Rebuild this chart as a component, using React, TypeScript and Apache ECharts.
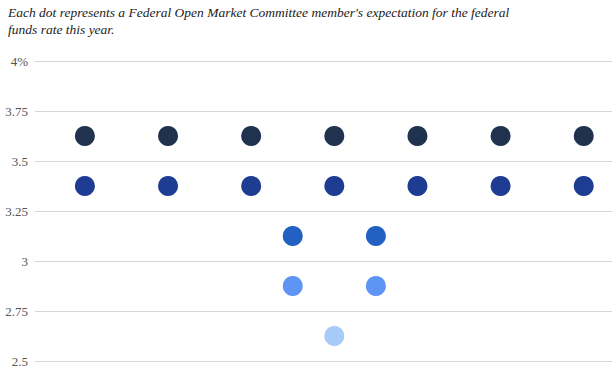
import React, { useEffect, useRef } from "react";
import * as echarts from "echarts";

const titleText =
  "Each dot represents a Federal Open Market Committee member's expectation for the federal\nfunds rate this year.";
const yTicks = [2.5, 2.75, 3, 3.25, 3.5, 3.75, 4];
// dot groups: rate value, horizontal slot positions, colour
const rowRates = [3.625, 3.375, 3.125, 2.875, 2.625];
const rowSlots = [
  [-3, -2, -1, 0, 1, 2, 3],
  [-3, -2, -1, 0, 1, 2, 3],
  [-0.5, 0.5],
  [-0.5, 0.5],
  [0],
];
const rowColors = ["#21324f", "#1f3c93", "#2261c2", "#5e95f5", "#a6cbf8"];

const SERIF = "serif";

export default function App() {
  const ref = useRef<HTMLDivElement>(null);
  useEffect(() => {
    const chart = echarts.init(ref.current!, undefined, { renderer: "svg" });
    chart.setOption({
      animation: false,
      textStyle: { fontFamily: SERIF },
      title: {
        text: titleText,
        left: 3,
        top: -1,
        textStyle: {
          fontFamily: SERIF,
          fontStyle: "italic",
          fontWeight: "normal",
          fontSize: 13.5,
          color: "#222",
          lineHeight: 17,
        },
      },
      grid: { left: 35, right: 0, top: 61, bottom: 17, containLabel: false },
      xAxis: {
        type: "value",
        min: -3.6,
        max: 3.34,
        show: false,
      },
      yAxis: {
        type: "value",
        min: yTicks[0],
        max: yTicks[yTicks.length - 1],
        interval: 0.25,
        axisLine: { show: false },
        axisTick: { show: false },
        splitLine: { lineStyle: { color: "#d6d6d6", width: 1 } },
        axisLabel: {
          margin: 7,
          fontFamily: SERIF,
          fontSize: 13,
          color: "#555",
          formatter: (v: number) => (v === 4 ? "4%" : String(v)),
        },
      },
      series: rowRates.map((r, i) => ({
        type: "scatter",
        symbol: "circle",
        symbolSize: 20,
        itemStyle: { color: rowColors[i], opacity: 1 },
        data: rowSlots[i].map((s) => [s, r]),
      })),
    });
    return () => chart.dispose();
  }, []);
  return <div ref={ref} style={{ width: 612, height: 378, position: "absolute", left: 0, top: 0 }} />;
}
